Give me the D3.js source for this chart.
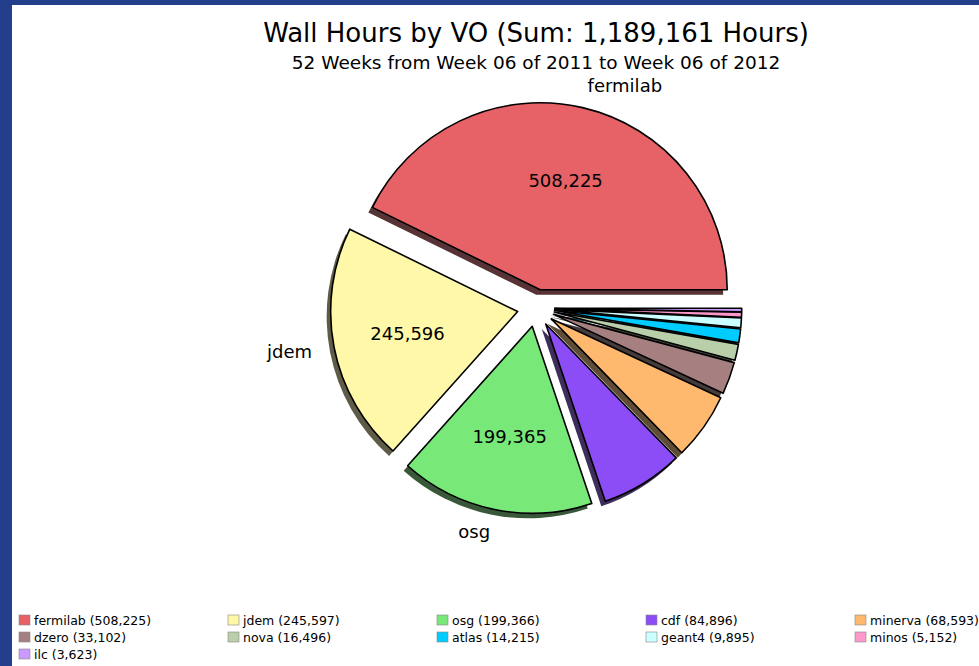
<!DOCTYPE html>
<html>
<head>
<meta charset="utf-8">
<script src="https://cdn.jsdelivr.net/npm/d3@7"></script>
<style>
  body { margin: 0; background: #233e8b; }
  svg { display: block; }
  text { font-family: "DejaVu Sans", sans-serif; fill: #000; }
</style>
</head>
<body>
<div id="container"></div>
<script>
const vos = ["fermilab", "jdem", "osg", "cdf", "minerva", "dzero", "nova", "atlas", "geant4", "minos", "ilc"];
const hours = [508225, 245597, 199366, 84896, 68593, 33102, 16496, 14215, 9895, 5152, 3623];
const colors = ["#e66266", "#fff8a8", "#78e878", "#8d4df6", "#ffb96e", "#a67f80", "#b9cfa9", "#00ccff", "#ccffff", "#ff99cc", "#cc99ff"];
// value labels inside the three big slices (as printed on the chart)
const sliceLabels = ["508,225", "245,596", "199,365"];
const labelled = ["fermilab", "jdem", "osg"];

const width = 979;
const height = 666;
const cx = 536, cy = 308, radius = 187;
const explode = 0.1;

const svg = d3.select("#container").append("svg")
  .attr("width", width)
  .attr("height", height);

// white panel inside the blue frame
svg.append("rect")
  .attr("x", 12).attr("y", 5)
  .attr("width", width - 12).attr("height", height - 5)
  .attr("fill", "#fff");

svg.append("text")
  .attr("x", cx).attr("y", 42)
  .attr("text-anchor", "middle")
  .style("font-size", "26px")
  .text("Wall Hours by VO (Sum: 1,189,161 Hours)");

svg.append("text")
  .attr("x", cx).attr("y", 69)
  .attr("text-anchor", "middle")
  .style("font-size", "18.5px")
  .text("52 Weeks from Week 06 of 2011 to Week 06 of 2012");

// matplotlib style: start at 3 o'clock, counter-clockwise
const pie = d3.pie().sort(null)
  .startAngle(Math.PI / 2)
  .endAngle(Math.PI / 2 - 2 * Math.PI);

const arcs = pie(hours);
const arc = d3.arc().innerRadius(0).outerRadius(radius);

// angle in d3 convention (0 = up, clockwise) -> screen direction
const dir = a => [Math.sin(a), -Math.cos(a)];
const mid = d => (d.startAngle + d.endAngle) / 2;
const fixArc = d => ({ startAngle: Math.min(d.startAngle, d.endAngle), endAngle: Math.max(d.startAngle, d.endAngle) });

const slices = svg.append("g");
arcs.forEach((d, i) => {
  const [ux, uy] = dir(mid(d));
  const ox = cx + ux * explode * radius;
  const oy = cy + uy * explode * radius;
  const c = d3.rgb(colors[i]);
  slices.append("path")
    .attr("transform", `translate(${ox - 4},${oy + 5})`)
    .attr("d", arc(fixArc(d)))
    .attr("fill", d3.rgb(c.r * 0.3, c.g * 0.3, c.b * 0.3))
    .attr("opacity", 0.9);
});
arcs.forEach((d, i) => {
  const [ux, uy] = dir(mid(d));
  const ox = cx + ux * explode * radius;
  const oy = cy + uy * explode * radius;
  slices.append("path")
    .attr("transform", `translate(${ox},${oy})`)
    .attr("d", arc(fixArc(d)))
    .attr("fill", colors[i])
    .attr("stroke", "#000")
    .attr("stroke-width", 1.6)
    .attr("stroke-linejoin", "round");
});

arcs.forEach((d, i) => {
  if (!labelled.includes(vos[i])) return;
  const [ux, uy] = dir(mid(d));
  const ox = cx + ux * explode * radius;
  const oy = cy + uy * explode * radius;
  svg.append("text")
    .attr("x", ox + ux * 0.6 * radius)
    .attr("y", oy + uy * 0.6 * radius)
    .attr("text-anchor", "middle")
    .attr("dominant-baseline", "central")
    .style("font-size", "18px")
    .text(sliceLabels[i]);
  svg.append("text")
    .attr("x", ox + ux * 1.12 * radius)
    .attr("y", oy + uy * 1.12 * radius)
    .attr("text-anchor", ux > 0 ? "start" : "end")
    .attr("dominant-baseline", "central")
    .style("font-size", "18px")
    .text(vos[i]);
});

// legend, 5 columns
const legend = svg.append("g");
vos.forEach((v, i) => {
  const col = i % 5, row = Math.floor(i / 5);
  const x = 19 + col * 209, y = 615 + row * 17;
  legend.append("rect")
    .attr("x", x).attr("y", y)
    .attr("width", 11).attr("height", 10)
    .attr("fill", colors[i])
    .attr("stroke", "#888").attr("stroke-width", 0.6);
  legend.append("text")
    .attr("x", x + 15).attr("y", y + 9.5)
    .style("font-size", "12.5px")
    .text(`${v} (${d3.format(",")(hours[i])})`);
});
</script>
</body>
</html>
